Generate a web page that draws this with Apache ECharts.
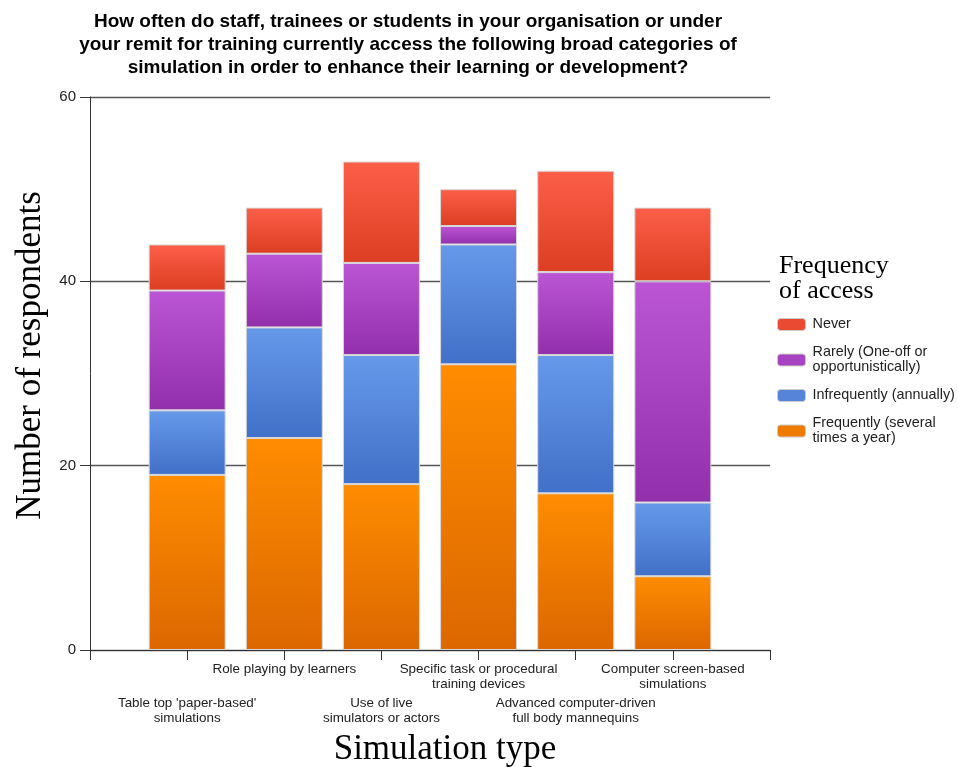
<!DOCTYPE html>
<html>
<head>
<meta charset="utf-8">
<script src="https://cdn.jsdelivr.net/npm/echarts@6/dist/echarts.min.js"></script>
<style>
  html, body { margin: 0; padding: 0; background: #fff; }
  #chart { width: 958px; height: 767px; }
</style>
</head>
<body>
<div id="chart"></div>
<script>
// Simulation types (x axis)
const categories = [
  "Table top 'paper-based'\nsimulations",
  "Role playing by learners",
  "Use of live\nsimulators or actors",
  "Specific task or procedural\ntraining devices",
  "Advanced computer-driven\nfull body mannequins",
  "Computer screen-based\nsimulations"
];

// Respondent counts per frequency of access
const frequently   = [19, 23, 18, 31, 17, 8];
const infrequently = [7, 12, 14, 13, 15, 8];
const rarely       = [13, 8, 10, 2, 9, 24];
const never        = [5, 5, 11, 4, 11, 8];

const seriesNames = [
  'Frequently (several\ntimes a year)',
  'Infrequently (annually)',
  'Rarely (One-off or\nopportunistically)',
  'Never'
];

const yTicks = [0, 20, 40, 60];

const palette = {
  frequently:   ['#ff8c00', '#dc6700', '#ee7a00'],
  infrequently: ['#6699ea', '#4070c7', '#5584d9'],
  rarely:       ['#bb55d5', '#922fab', '#a743c1'],
  never:        ['#fc5f48', '#dc3e22', '#ea4a31']
};

function grad(c) {
  return new echarts.graphic.LinearGradient(0, 0, 0, 1, [
    { offset: 0, color: c[0] },
    { offset: 1, color: c[1] }
  ]);
}

// Empty slots at both ends so the bars sit on the inner ticks
const axisCats = [''].concat(categories, ['']);
const pad = arr => [null].concat(arr, [null]);

const chart = echarts.init(document.getElementById('chart'), null, { renderer: 'canvas' });

const makeSeries = (name, data, c) => ({
  name: name,
  type: 'bar',
  stack: 'total',
  barWidth: 77,
  data: pad(data),
  itemStyle: { color: grad(c), borderColor: '#d8d8d8', borderWidth: 1 },
  emphasis: { disabled: true }
});

const legendTops = [
  { name: seriesNames[3], top: 317, color: palette.never[2] },
  { name: seriesNames[2], top: 345, color: palette.rarely[2] },
  { name: seriesNames[1], top: 388, color: palette.infrequently[2] },
  { name: seriesNames[0], top: 416, color: palette.frequently[2] }
];

chart.setOption({
  animation: false,
  title: {
    text: 'How often do staff, trainees or students in your organisation or under\nyour remit for training currently access the following broad categories of\nsimulation in order to enhance their learning or development?',
    left: 403,
    top: 5,
    textAlign: 'center',
    textStyle: {
      fontFamily: 'Liberation Sans, Arial, sans-serif',
      fontWeight: 'bold',
      fontSize: 19,
      lineHeight: 23,
      color: '#000'
    }
  },
  graphic: [
    {
      type: 'text',
      left: 779,
      top: 253,
      style: {
        text: 'Frequency\nof access',
        font: '26px "Liberation Serif", "Times New Roman", serif',
        lineHeight: 25,
        fill: '#000'
      }
    }
  ],
  legend: legendTops.map(l => ({
    data: [{ name: l.name, itemStyle: { color: l.color, borderColor: '#ccc', borderWidth: 1 } }],
    left: 777,
    top: l.top,
    padding: 0,
    orient: 'vertical',
    itemWidth: 28,
    itemHeight: 12,
    itemGap: 0,
    selectedMode: false,
    textStyle: {
      fontFamily: 'Liberation Sans, Arial, sans-serif',
      fontSize: 14.4,
      lineHeight: 15,
      color: '#222',
      padding: [0, 0, 0, 2]
    }
  })),
  grid: { left: 90, right: 188, top: 97, bottom: 117, containLabel: false, outerBoundsMode: 'none' },
  xAxis: {
    type: 'category',
    data: axisCats,
    boundaryGap: false,
    name: 'Simulation type',
    nameLocation: 'middle',
    nameGap: 82,
    nameTextStyle: {
      fontFamily: 'Liberation Serif, Times New Roman, serif',
      fontSize: 35,
      color: '#000',
      padding: [0, 0, 0, 30]
    },
    axisLine: { lineStyle: { color: '#333', width: 1 } },
    axisTick: { show: true, length: 10, interval: 0, alignWithLabel: true, lineStyle: { color: '#333' } },
    axisLabel: {
      interval: 0,
      margin: 12,
      formatter: (value, idx) => {
        if (!value) return '';
        const lines = value.split('\n').map(s => '{t|' + s + '}').join('\n');
        return idx % 2 === 1 ? '{g| }\n' + lines : lines;
      },
      rich: {
        t: { fontFamily: 'Liberation Sans, Arial, sans-serif', fontSize: 13.4, lineHeight: 15, color: '#222' },
        g: { fontSize: 12, lineHeight: 34 }
      }
    },
    splitLine: { show: false }
  },
  yAxis: {
    type: 'value',
    min: yTicks[0],
    max: yTicks[yTicks.length - 1],
    interval: 20,
    name: 'Number of respondents',
    nameLocation: 'middle',
    nameGap: 42,
    nameTextStyle: {
      fontFamily: 'Liberation Serif, Times New Roman, serif',
      fontSize: 35,
      color: '#000',
      padding: [0, 0, 0, 36]
    },
    axisLine: { show: true, lineStyle: { color: '#333', width: 1 } },
    axisTick: { show: true, length: 10, lineStyle: { color: '#333' } },
    axisLabel: {
      margin: 14,
      fontFamily: 'Liberation Sans, Arial, sans-serif',
      fontSize: 15,
      color: '#222'
    },
    splitLine: { show: true, lineStyle: { color: '#555', width: 1.3 } }
  },
  series: [
    makeSeries(seriesNames[0], frequently, palette.frequently),
    makeSeries(seriesNames[1], infrequently, palette.infrequently),
    makeSeries(seriesNames[2], rarely, palette.rarely),
    makeSeries(seriesNames[3], never, palette.never)
  ]
});
</script>
</body>
</html>
